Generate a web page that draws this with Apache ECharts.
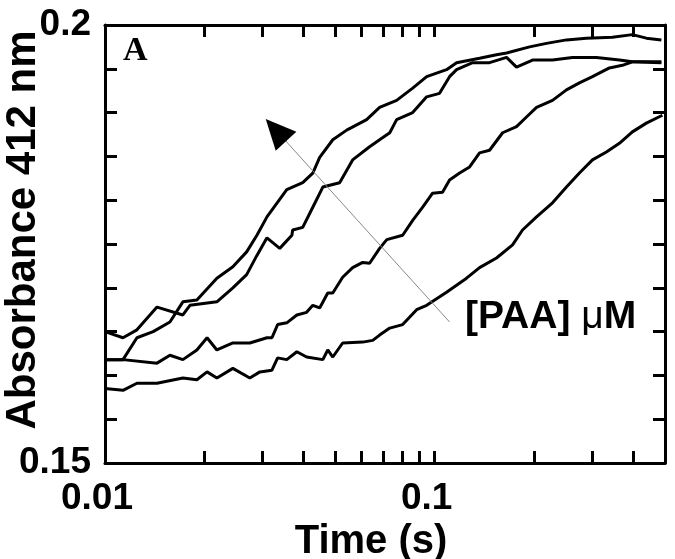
<!DOCTYPE html>
<html>
<head>
<meta charset="utf-8">
<script src="https://cdn.jsdelivr.net/npm/echarts@6/dist/echarts.min.js"></script>
<style>
  html, body { margin: 0; padding: 0; background: #fff; }
  #chart { width: 675px; height: 559px; }
</style>
</head>
<body>
<div id="chart"></div>
<script>
// absorbance traces, [time (s), A412]
const traceA = [
  [0.0100, 0.1650], [0.01134, 0.1643], [0.0125, 0.1652], [0.01438, 0.1678], [0.01723, 0.1669],
  [0.0181, 0.1680], [0.02185, 0.1684], [0.02443, 0.1700], [0.0269, 0.1715], [0.0289, 0.1737],
  [0.0310, 0.1757], [0.0339, 0.1745], [0.0369, 0.1760], [0.0371, 0.1766], [0.0398, 0.1769],
  [0.0427, 0.1792], [0.0458, 0.1815], [0.0515, 0.1820], [0.0564, 0.1846], [0.0635, 0.1861],
  [0.0681, 0.1869], [0.0731, 0.1877], [0.0767, 0.1892], [0.0858, 0.1900], [0.0946, 0.1918],
  [0.1035, 0.1922], [0.1110, 0.1941], [0.1166, 0.1949], [0.1304, 0.1957], [0.1468, 0.1957],
  [0.1653, 0.1963], [0.1772, 0.1952], [0.1982, 0.1960], [0.2279, 0.1960], [0.2620, 0.1963],
  [0.3097, 0.1963], [0.3636, 0.1960], [0.3981, 0.1958], [0.4875, 0.1957]
];
const traceB = [
  [0.0100, 0.1618], [0.01134, 0.1618], [0.0125, 0.1643], [0.0140, 0.1650], [0.01574, 0.1661],
  [0.01723, 0.1684], [0.0190, 0.1686], [0.02185, 0.1711], [0.02443, 0.1724], [0.0269, 0.1741],
  [0.0289, 0.1760], [0.0310, 0.1781], [0.0356, 0.1812], [0.0398, 0.1820], [0.0427, 0.1831],
  [0.0448, 0.1849], [0.0491, 0.1869], [0.0541, 0.1880], [0.0622, 0.1892], [0.0681, 0.1906],
  [0.0767, 0.1914], [0.0858, 0.1928], [0.0946, 0.1941], [0.1087, 0.1949], [0.1166, 0.1957],
  [0.1369, 0.1962], [0.1541, 0.1966], [0.1653, 0.1968], [0.1941, 0.1975], [0.2185, 0.1979],
  [0.2512, 0.1983], [0.2888, 0.1985], [0.3463, 0.1986], [0.3981, 0.1989], [0.4389, 0.1985],
  [0.4875, 0.1983]
];
const traceC = [
  [0.0100, 0.1618], [0.01134, 0.1618], [0.01438, 0.1614], [0.01574, 0.1623], [0.01723, 0.1618],
  [0.0190, 0.1629], [0.0204, 0.1643], [0.02185, 0.1629], [0.02443, 0.1637], [0.0275, 0.1637],
  [0.0310, 0.1643], [0.0321, 0.1643], [0.0334, 0.1658], [0.0356, 0.1660], [0.0382, 0.1669],
  [0.0409, 0.1672], [0.0427, 0.1680], [0.0448, 0.1677], [0.0474, 0.1694], [0.0491, 0.1694],
  [0.0526, 0.1712], [0.0564, 0.1723], [0.0605, 0.1729], [0.0635, 0.1728], [0.0681, 0.1745],
  [0.0716, 0.1755], [0.0800, 0.1760], [0.0858, 0.1777], [0.0920, 0.1792], [0.0986, 0.1808],
  [0.1057, 0.1809], [0.1110, 0.1823], [0.1191, 0.1831], [0.1277, 0.1838], [0.1369, 0.1854],
  [0.1468, 0.1857], [0.1608, 0.1877], [0.1772, 0.1884], [0.1900, 0.1895], [0.2038, 0.1906],
  [0.2279, 0.1914], [0.2512, 0.1926], [0.2750, 0.1934], [0.3012, 0.1941], [0.3391, 0.1951],
  [0.3713, 0.1954], [0.3981, 0.1958], [0.4578, 0.1958], [0.4875, 0.1958]
];
const traceD = [
  [0.0100, 0.1585], [0.01134, 0.1583], [0.0125, 0.1591], [0.01438, 0.1591], [0.01723, 0.1597],
  [0.0190, 0.1595], [0.0204, 0.1604], [0.02185, 0.1597], [0.02443, 0.1608], [0.0275, 0.1597],
  [0.0295, 0.1604], [0.0321, 0.1606], [0.0334, 0.1620], [0.0356, 0.1618], [0.0382, 0.1627],
  [0.0409, 0.1621], [0.0458, 0.1618], [0.0474, 0.1629], [0.0491, 0.1621], [0.0526, 0.1637],
  [0.0605, 0.1638], [0.0649, 0.1640], [0.0681, 0.1646], [0.0731, 0.1654], [0.0800, 0.1658],
  [0.0882, 0.1675], [0.0946, 0.1680], [0.1087, 0.1695], [0.1250, 0.1711], [0.1369, 0.1723],
  [0.1541, 0.1734], [0.1724, 0.1749], [0.1848, 0.1766], [0.2038, 0.1781], [0.2279, 0.1797],
  [0.2512, 0.1815], [0.2750, 0.1831], [0.3012, 0.1846], [0.3320, 0.1855], [0.3636, 0.1865],
  [0.3981, 0.1878], [0.4389, 0.1888], [0.4909, 0.1897]
];

const xTicks = [0.01, 0.02, 0.03, 0.04, 0.05, 0.06, 0.07, 0.08, 0.09, 0.1, 0.2, 0.3, 0.4, 0.5];
const xLabels = [0.01, 0.1];
const yLabels = [0.15, 0.2];
// arrow showing increasing [PAA]
const arrowFrom = [0.111, 0.1661];
const arrowNeck = [0.0351, 0.1869];
const arrowTo = [0.033, 0.1880];

const chart = echarts.init(document.getElementById('chart'));

const axisCommon = {
  axisLine: { lineStyle: { color: '#000', width: 3 } },
  axisTick: { inside: true, length: 12, lineStyle: { color: '#000', width: 3 } },
  splitLine: { show: false }
};

function xAxis(pos, showLabels) {
  return Object.assign({}, axisCommon, {
    type: 'log',
    logBase: 10,
    position: pos,
    min: 0.01,
    max: 0.5,
    axisTick: Object.assign({}, axisCommon.axisTick, { customValues: xTicks }),
    axisLabel: {
      show: showLabels,
      customValues: xLabels,
      formatter: v => String(+v.toPrecision(2)),
      color: '#000',
      fontFamily: 'Liberation Sans, Arial',
      fontWeight: 'bold',
      fontSize: 37,
      margin: 17,
      padding: [0, 16, 0, 0]
    }
  });
}

function yAxis(pos, showLabels) {
  return Object.assign({}, axisCommon, {
    type: 'value',
    position: pos,
    min: 0.15,
    max: 0.2,
    interval: 0.005,
    axisLabel: {
      show: showLabels,
      formatter: v => {
        const hit = yLabels.find(l => Math.abs(l - v) < 1e-9);
        return hit === undefined ? '' : String(hit);
      },
      color: '#000',
      fontFamily: 'Liberation Sans, Arial',
      fontWeight: 'bold',
      fontSize: 37,
      margin: 14
    }
  });
}

const bottomX = xAxis('bottom', true);
bottomX.name = 'Time (s)';
bottomX.nameLocation = 'middle';
bottomX.nameGap = 48;
bottomX.nameTextStyle = {
  color: '#000', fontFamily: 'Liberation Sans, Arial', fontWeight: 'bold', fontSize: 40,
  padding: [0, 28, 0, 0]
};

const leftY = yAxis('left', true);
leftY.name = 'Absorbance 412 nm';
leftY.nameLocation = 'middle';
leftY.nameRotate = 90;
leftY.nameGap = 61;
leftY.nameMoveOverlap = false;
leftY.nameTextStyle = {
  color: '#000', fontFamily: 'Liberation Sans, Arial', fontWeight: 'bold', fontSize: 42,
  padding: [0, 0, 0, 28]
};

const lineStyle = { color: '#000', width: 3 };
const mkSeries = (name, data) => ({
  name: name,
  type: 'line',
  data: data,
  showSymbol: false,
  symbol: 'none',
  lineStyle: lineStyle,
  xAxisIndex: 0,
  yAxisIndex: 0
});

const seriesList = [
  mkSeries('A', traceA),
  mkSeries('B', traceB),
  mkSeries('C', traceC),
  mkSeries('D', traceD)
];
seriesList[0].markLine = {
  silent: true,
  animation: false,
  symbol: ['none', 'none'],
  label: { show: false },
  lineStyle: { color: '#888', width: 1, type: 'solid' },
  data: [
    [{ coord: arrowFrom }, { coord: arrowTo }],
    [
      { coord: arrowNeck, lineStyle: { color: '#000', width: 1, type: 'solid' } },
      { coord: arrowTo, symbol: 'triangle', symbolSize: [28, 30] }
    ]
  ]
};

chart.setOption({
  animation: false,
  backgroundColor: '#fff',
  grid: { left: 105, right: 10, top: 25, bottom: 96, outerBoundsMode: 'none' },
  xAxis: [bottomX, xAxis('top', false)],
  yAxis: [leftY, yAxis('right', false)],
  graphic: [
    {
      type: 'text',
      left: 123,
      top: 34,
      style: {
        text: 'A',
        fill: '#000',
        font: 'bold 34px "Liberation Serif", "Times New Roman", serif'
      }
    },
    {
      type: 'text',
      left: 465,
      top: 298,
      style: {
        text: '{b|[PAA] }{u|μ}{b|M}',
        rich: {
          b: { fill: '#000', fontFamily: 'Liberation Sans, Arial', fontWeight: 'bold', fontSize: 39 },
          u: { fill: '#000', fontFamily: 'Liberation Sans, Arial', fontWeight: 'normal', fontSize: 39 }
        }
      }
    }
  ],
  series: seriesList
});
</script>
</body>
</html>
